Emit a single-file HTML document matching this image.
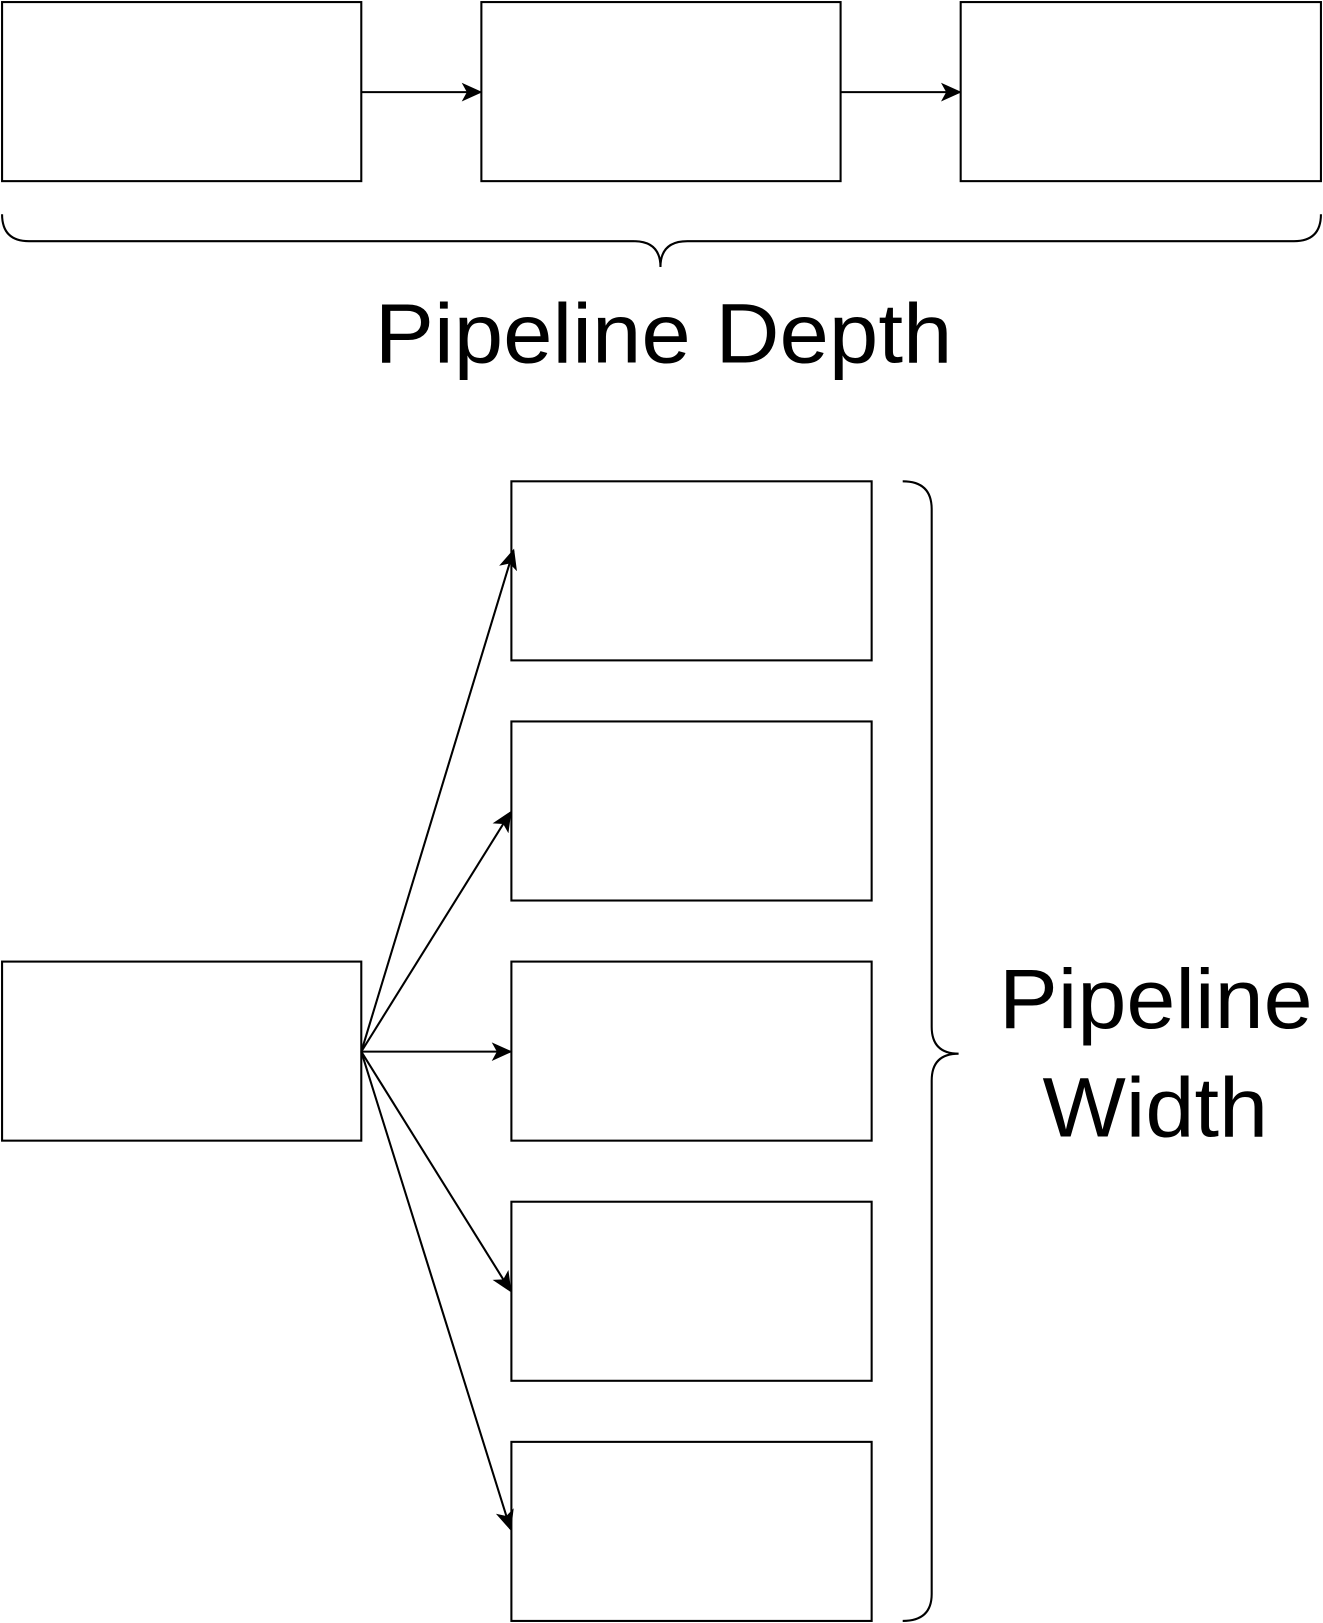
<!DOCTYPE html>
<html><head><meta charset="utf-8"><style>
html,body{margin:0;padding:0;background:#fff;}
svg{display:block;}
</style></head><body>
<svg width="1323" height="1623" viewBox="0 0 1278 1568" preserveAspectRatio="none" xmlns="http://www.w3.org/2000/svg">
<defs>
<marker id="a" markerWidth="20" markerHeight="20" refX="18" refY="10" orient="auto" markerUnits="userSpaceOnUse" viewBox="0 0 20 20">
<path d="M0,1 L20,10 L0,19 L5,10 Z" fill="#000"/>
</marker>
</defs>
<g fill="#fff" stroke="#000" stroke-width="2">
<rect x="2" y="2" width="347" height="173"/>
<rect x="465" y="2" width="347" height="173"/>
<rect x="928" y="2" width="348" height="173"/>
<rect x="2" y="929" width="347" height="173"/>
<rect x="494" y="465" width="348" height="173"/>
<rect x="494" y="697" width="348" height="173"/>
<rect x="494" y="929" width="348" height="173"/>
<rect x="494" y="1161" width="348" height="173"/>
<rect x="494" y="1393" width="348" height="173"/>
</g>
<g stroke="#000" stroke-width="2" fill="none" marker-end="url(#a)">
<line x1="349" y1="89" x2="464" y2="89"/>
<line x1="812" y1="89" x2="927" y2="89"/>
<line x1="349" y1="1016" x2="496" y2="532"/>
<line x1="349" y1="1016" x2="493" y2="785"/>
<line x1="349" y1="1016" x2="493" y2="1016"/>
<line x1="349" y1="1016" x2="493" y2="1247"/>
<line x1="349" y1="1016" x2="493" y2="1477"/>
</g>
<g stroke="#000" stroke-width="2" fill="none">
<path d="M2,207 Q2,233 28,233 L612,233 Q638,233 638,258 Q638,233 664,233 L1250,233 Q1276,233 1276,207"/>
<path d="M872,465 Q900,465 900,492 L900,992 Q900,1018 926,1018 Q900,1018 900,1044 L900,1540 Q900,1566 872,1566"/>
</g>
<g font-family="Liberation Sans, sans-serif" font-size="82" fill="#000">
<text x="362" y="350" textLength="558" lengthAdjust="spacingAndGlyphs">Pipeline Depth</text>
<text x="965" y="993" textLength="303" lengthAdjust="spacingAndGlyphs">Pipeline</text>
<text x="1007" y="1098" textLength="218" lengthAdjust="spacingAndGlyphs">Width</text>
</g>
</svg>
</body></html>
